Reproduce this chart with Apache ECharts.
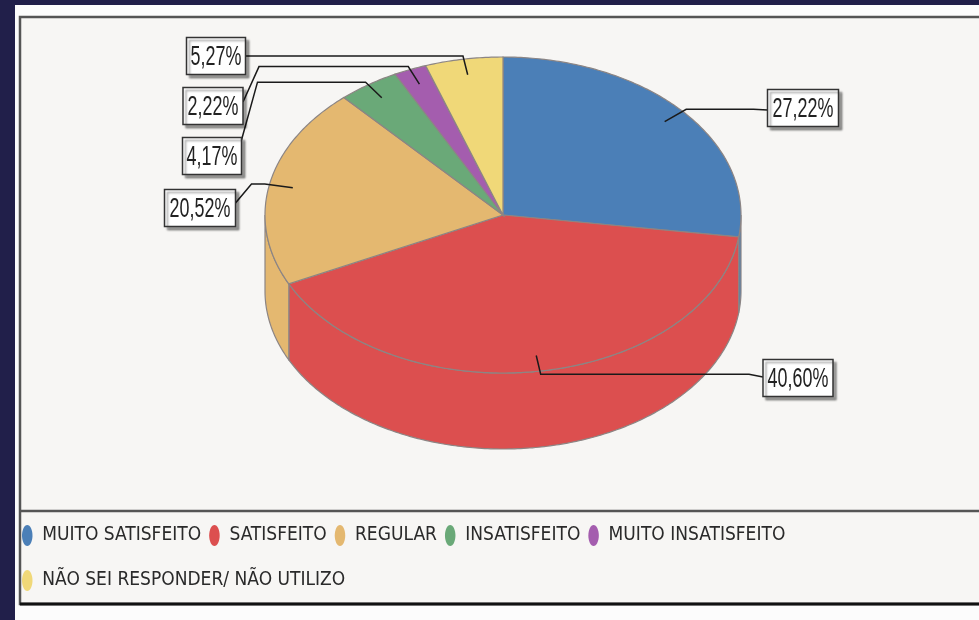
<!DOCTYPE html>
<html>
<head>
<meta charset="utf-8">
<script src="https://cdn.jsdelivr.net/npm/echarts@6/dist/echarts.min.js"></script>
<style>
  html, body { margin: 0; padding: 0; background: #211f4a; }
  #chart { width: 979px; height: 620px; }
</style>
</head>
<body>
<div id="chart"></div>
<script>
// ---- data ----
const categories = ['MUITO SATISFEITO', 'SATISFEITO', 'REGULAR', 'INSATISFEITO', 'MUITO INSATISFEITO', 'NÃO SEI RESPONDER/ NÃO UTILIZO'];
const percentages = [27.22, 40.60, 20.52, 4.17, 2.22, 5.27];

// ---- styles / layout ----
const colors = ['#4b7fb7', '#dc4f4f', '#e4b870', '#6aa978', '#a45dae', '#f0d878'];
const labelBoxes = [ // centre x, centre y, width, link end offset (layout only)
  [803, 108, 71, 2],
  [798, 378, 70, -1],
  [200, 208, 71, -5],
  [212, 156, 59, -16],
  [213, 106, 60, -4],
  [216, 56, 59, 0]
];
const BOX_H = 37;
const TILT = 158 / 238;
const DEPTH = 76;
const EDGE = '#8c8584';

const starts = [];
percentages.reduce((acc, v, i) => { starts[i] = acc; return acc + v; }, 0);

function fmt(v) { return v.toFixed(2).replace('.', ',') + '%'; }

function renderItem(params, api) {
  const i = params.seriesIndex;
  const start = api.value(0);
  const val = api.value(1);
  const end = start + val;
  const color = colors[i];
  const c = api.coord([0, 0]);
  const pt = (r, v, dz) => {
    const p = api.coord([r, v]);
    return [p[0], c[1] + (p[1] - c[1]) * TILT + (dz || 0)];
  };
  const arc = (a, b, r, dz) => {
    const n = Math.max(2, Math.ceil((b - a) / 0.2));
    const pts = [];
    for (let k = 0; k <= n; k++) pts.push(pt(r, a + (b - a) * k / n, dz));
    return pts;
  };
  const children = [];
  // front side wall
  const wa = Math.max(start, 25), wb = Math.min(end, 75);
  if (wb > wa) {
    const top = arc(wa, wb, 1, 0);
    const bot = arc(wa, wb, 1, DEPTH).reverse();
    children.push({
      type: 'polygon', z2: 1,
      shape: { points: top.concat(bot) },
      style: { fill: color, stroke: EDGE, lineWidth: 1.2 }
    });
  }
  // top face
  children.push({
    type: 'polygon', z2: 5,
    shape: { points: [[c[0], c[1]]].concat(arc(start, end, 1, 0)) },
    style: { fill: color, stroke: EDGE, lineWidth: 1.2 }
  });
  // label
  const mid = start + val / 2;
  const a = pt(0.9, mid, 0);
  const e = pt(1.02, mid, 0);
  const b = labelBoxes[i];
  const right = b[0] > c[0];
  const edgeX = right ? b[0] - b[2] / 2 : b[0] + b[2] / 2;
  const linkX = right ? edgeX - 14 : edgeX + 16;
  children.push({
    type: 'polyline', z2: 100,
    shape: { points: [a, e, [linkX, e[1]], [edgeX, b[1] + b[3]]] },
    style: { stroke: '#1a1a1a', lineWidth: 1.5, fill: null }
  });
  children.push({
    type: 'rect', z2: 101,
    shape: { x: b[0] - b[2] / 2, y: b[1] - BOX_H / 2, width: b[2], height: BOX_H },
    style: { fill: '#ffffff', stroke: '#333333', lineWidth: 1.5, shadowColor: 'rgba(0,0,0,0.35)', shadowBlur: 2, shadowOffsetX: 3, shadowOffsetY: 3 }
  });
  children.push({
    type: 'text', z2: 102,
    x: b[0], y: b[1] + 1, scaleX: 0.64,
    style: { text: fmt(val), fill: '#222222', font: '28px "Liberation Sans", Arial, sans-serif', align: 'center', verticalAlign: 'middle' }
  });
  return { type: 'group', children: children };
}

const series = categories.map((name, i) => ({
  type: 'custom',
  name: name,
  coordinateSystem: 'polar',
  polarIndex: 0,
  itemStyle: { color: colors[i] },
  renderItem: renderItem,
  silent: true,
  data: [[starts[i], percentages[i]]]
}));

const chart = echarts.init(document.getElementById('chart'));
chart.setOption({
  animation: false,
  backgroundColor: '#211f4a',
  graphic: [
    { type: 'rect', z: 0, silent: true, shape: { x: 15, y: 5, width: 970, height: 620 }, style: { fill: '#fcfcfc' } },
    { type: 'rect', z: 0, silent: true, shape: { x: 20, y: 17, width: 975, height: 587 }, style: { fill: '#f7f6f4', stroke: '#555555', lineWidth: 2.5 } },
    { type: 'line', z: 0, silent: true, shape: { x1: 20, y1: 511, x2: 979, y2: 511 }, style: { stroke: '#555555', lineWidth: 2.5 } },
    { type: 'line', z: 0, silent: true, shape: { x1: 20, y1: 604, x2: 979, y2: 604 }, style: { stroke: '#111111', lineWidth: 3 } }
  ],
  polar: { center: [503, 215], radius: 238 },
  angleAxis: { type: 'value', min: 0, max: 100, startAngle: 90, clockwise: true, show: false },
  radiusAxis: { type: 'value', min: 0, max: 1, show: false },
  legend: {
    data: categories,
    left: 22,
    top: 517,
    width: 800,
    padding: 0,
    itemGap: 8,
    itemWidth: 20,
    itemHeight: 21,
    selectedMode: false,
    icon: 'path://M5,0 C7.76,0 10,4.48 10,10 C10,15.52 7.76,20 5,20 C2.24,20 0,15.52 0,10 C0,4.48 2.24,0 5,0 Z',
    textStyle: { fontSize: 19, lineHeight: 37, color: '#2a2a2a', fontFamily: '"DejaVu Sans Condensed", "Liberation Sans", sans-serif' }
  },
  series: series
});
</script>
</body>
</html>
